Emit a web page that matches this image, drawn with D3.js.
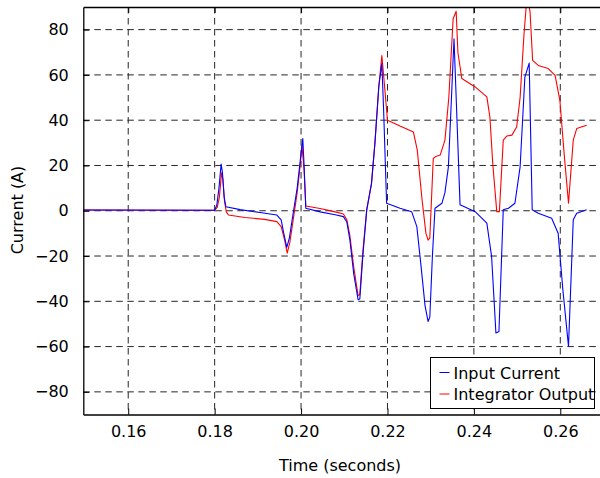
<!DOCTYPE html>
<html>
<head>
<meta charset="utf-8">
<script src="https://cdn.jsdelivr.net/npm/d3@7"></script>
<style>
  body { margin: 0; background: #fff; }
  svg { display: block; font-family: "DejaVu Sans", sans-serif; }
  .grid line { stroke: #262626; stroke-dasharray: 6.5 4.5; stroke-width: 1; }
</style>
</head>
<body>
<div id="chart"></div>
<script>
// series
let inputTime = [0.1495, 0.1800, 0.1805, 0.1810, 0.1815, 0.1818, 0.1822, 0.1826, 0.1859, 0.1905, 0.1944, 0.1954,
  0.1960, 0.1967, 0.1973, 0.1981, 0.1991, 0.1998, 0.2004, 0.2007, 0.2011, 0.2044,
  0.2079, 0.2098, 0.2106, 0.2113, 0.2122, 0.2132, 0.2136, 0.2143, 0.2152, 0.2163,
  0.2171, 0.2180, 0.2187, 0.2191, 0.2198, 0.2229, 0.2256, 0.2268, 0.2278, 0.2287,
  0.2294, 0.2298, 0.2304, 0.2310, 0.2326, 0.2333, 0.2341, 0.2347, 0.2354, 0.2359,
  0.2368, 0.2403, 0.2430, 0.2441, 0.2451, 0.2458, 0.2468, 0.2480, 0.2495, 0.2507,
  0.2518, 0.2528, 0.2535, 0.2549, 0.2580, 0.2595, 0.2606, 0.2619, 0.2630, 0.2638, 0.2661];
let inputCurrent = [0.3, 0.2, 2.5, 10, 20.6, 17, 6, 1.8, 0.5, -0.8, -1.9, -4,
  -10, -16.2, -12, -2, 10, 22, 31.9, 20, 1.1, -0.5,
  -1.8, -2.6, -5, -12.9, -28, -39.3, -39, -20, 0.4, 12,
  30, 55, 65, 45, 3.3, 1.1, -0.4, -7, -25, -42,
  -48.9, -47, -20, 1.1, 3.3, 8, 19.4, 45, 76, 50,
  2.6, -0.4, -5.5, -20.2, -54, -53.3, 0.4, 1.1, 3.3, 19.4,
  59, 65.2, 0.4, -1.1, -3.3, -9.9, -35, -59.9, -4, -1.1, 0.4];

let outputTime = [0.1495, 0.1800, 0.1806, 0.1811, 0.1816, 0.1819, 0.1823, 0.1827, 0.1832, 0.1870, 0.1916, 0.1944,
  0.1954, 0.1962, 0.1968, 0.1974, 0.1981, 0.1991, 0.1998, 0.2002, 0.2007, 0.2011,
  0.2044, 0.2079, 0.2098, 0.2106, 0.2113, 0.2122, 0.2132, 0.2136, 0.2143, 0.2152,
  0.2163, 0.2171, 0.2180, 0.2187, 0.2191, 0.2200, 0.2229, 0.2260, 0.2269, 0.2280,
  0.2289, 0.2294, 0.2298, 0.2306, 0.2312, 0.2322, 0.2333, 0.2342, 0.2352, 0.2359,
  0.2363, 0.2372, 0.2403, 0.2430, 0.2437, 0.2444, 0.2453, 0.2459, 0.2468, 0.2476,
  0.2488, 0.2499, 0.2507, 0.2516, 0.2523, 0.2530, 0.2536, 0.2549, 0.2572, 0.2588,
  0.2599, 0.2609, 0.2619, 0.2630, 0.2638, 0.2661];
let outputCurrent = [0.3, 0.2, 1.5, 6, 16.8, 14, 4, -0.5, -1.9, -3, -3.8, -4.8,
  -7, -13, -18.7, -14, -5, 8, 20, 29, 18, 2.1,
  1, -0.5, -1.4, -4, -11, -25, -37.5, -37, -18, 0.4,
  12, 30, 55, 68.6, 60, 40, 37.4, 34.8, 26.8, 5,
  -10, -13, -12, 23.1, 24, 24.6, 31.2, 50, 84.8, 88.1,
  70, 58.4, 54.7, 50.3, 41.5, 20, -0.4, -0.4, 31.2, 33,
  33.4, 37, 50, 78, 95, 88, 66.4, 64.2, 62.8, 59.8,
  48.8, 25, 3.3, 31.2, 36.3, 37.8];

let xTicks = [0.16, 0.18, 0.20, 0.22, 0.24, 0.26];
let yTicks = [-80, -60, -40, -20, 0, 20, 40, 60, 80];
let seriesNames = ["Input Current", "Integrator Output"];
let seriesColors = ["#0000ff", "#ff0000"];

let width = 600, height = 478;
let plot = { left: 83.3, right: 603.5, top: 7, bottom: 414.5 };

let x = d3.scaleLinear().domain([0.1496, 0.27]).range([plot.left, plot.right]);
let y = d3.scaleLinear().domain([-90, 90]).range([plot.bottom, plot.top]);

let svg = d3.select("#chart").append("svg")
  .attr("width", width)
  .attr("height", height);

svg.append("defs").append("clipPath")
  .attr("id", "clip")
  .append("rect")
  .attr("x", plot.left)
  .attr("y", plot.top)
  .attr("width", plot.right - plot.left)
  .attr("height", plot.bottom - plot.top);

// grid
let grid = svg.append("g").classed("grid", true);
grid.selectAll("line.gx")
  .data(xTicks)
  .enter()
  .append("line")
  .attr("x1", (d) => x(d)).attr("x2", (d) => x(d))
  .attr("y1", plot.top).attr("y2", plot.bottom);
grid.selectAll("line.gy")
  .data(yTicks)
  .enter()
  .append("line")
  .attr("x1", plot.left).attr("x2", plot.right)
  .attr("y1", (d) => y(d)).attr("y2", (d) => y(d));

// lines
let series = [
  { name: seriesNames[0], color: seriesColors[0], t: inputTime, v: inputCurrent },
  { name: seriesNames[1], color: seriesColors[1], t: outputTime, v: outputCurrent }
];

let line = d3.line()
  .x((d) => x(d[0]))
  .y((d) => y(d[1]));

svg.append("g")
  .attr("clip-path", "url(#clip)")
  .selectAll("path")
  .data(series.slice().reverse())
  .enter()
  .append("path")
  .attr("fill", "none")
  .attr("stroke", (s) => s.color)
  .attr("stroke-width", 1.1)
  .attr("stroke-linejoin", "round")
  .attr("d", (s) => line(s.t.map((t, i) => [t, s.v[i]])));

// axes, ticks pointing inward
let fmt = d3.format(".2f");
let xAxis = svg.append("g")
  .attr("transform", "translate(0," + plot.bottom + ")")
  .call(d3.axisBottom(x).tickValues(xTicks).tickFormat(fmt).tickSizeInner(-6).tickSizeOuter(0).tickPadding(11.5));
let xAxisTop = svg.append("g")
  .attr("transform", "translate(0," + plot.top + ")")
  .call(d3.axisTop(x).tickValues(xTicks).tickFormat("").tickSizeInner(-6).tickSizeOuter(0));
let yAxis = svg.append("g")
  .attr("transform", "translate(" + plot.left + ",0)")
  .call(d3.axisLeft(y).tickValues(yTicks).tickSizeInner(-6).tickSizeOuter(0).tickPadding(14.5));

[xAxis, xAxisTop, yAxis].forEach((a) => {
  a.select(".domain").attr("stroke", "#000").attr("stroke-width", 1.3);
  a.selectAll(".tick line").attr("stroke", "#000");
  a.selectAll(".tick text")
    .attr("fill", "#000")
    .style("font-size", "16px")
    .style("font-family", "DejaVu Sans, sans-serif");
});

svg.append("text")
  .attr("x", 340)
  .attr("y", 471)
  .attr("text-anchor", "middle")
  .style("font-size", "16px")
  .text("Time (seconds)");

svg.append("text")
  .attr("transform", "translate(23,210) rotate(-90)")
  .attr("text-anchor", "middle")
  .style("font-size", "16px")
  .text("Current (A)");

// legend
let legend = svg.append("g").attr("transform", "translate(430.5,357.5)");
legend.append("rect")
  .attr("width", 164)
  .attr("height", 51)
  .attr("fill", "#fff")
  .attr("stroke", "#000")
  .attr("stroke-width", 1);

let items = legend.selectAll("g.item")
  .data(series)
  .enter()
  .append("g")
  .classed("item", true)
  .attr("transform", (s, i) => "translate(0," + (15 + i * 21.5) + ")");
items.append("line")
  .attr("x1", 9).attr("x2", 19)
  .attr("y1", 0).attr("y2", 0)
  .attr("stroke", (s) => s.color)
  .attr("stroke-width", 1);
items.append("text")
  .attr("x", 23)
  .attr("y", 6)
  .style("font-size", "16px")
  .text((s) => s.name);
</script>
</body>
</html>
